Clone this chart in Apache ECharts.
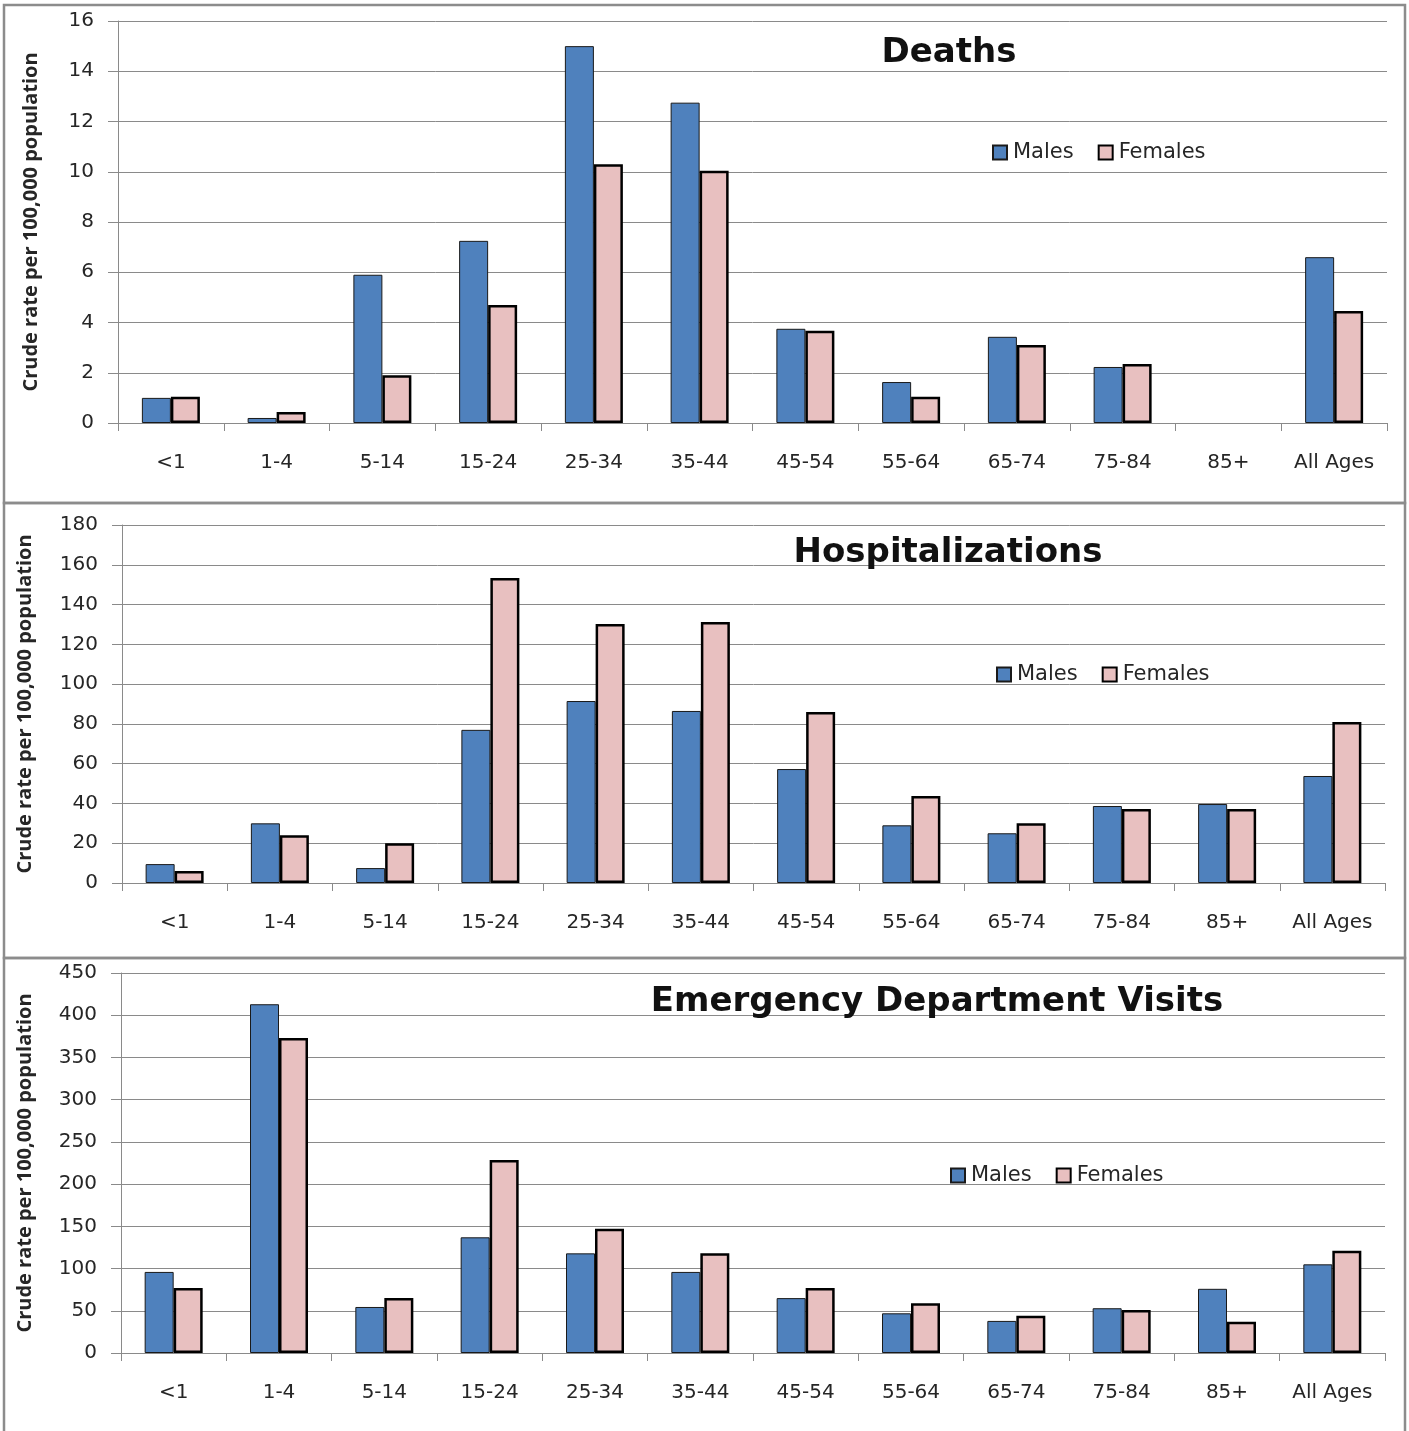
<!DOCTYPE html>
<html><head><meta charset="utf-8">
<script src="https://cdn.jsdelivr.net/npm/echarts@6/dist/echarts.min.js"></script>
<style>html,body{margin:0;padding:0;background:#fff}#c{width:1409px;height:1431px}</style>
</head><body><div id="c"></div>
<script>
const categories = ['<1','1-4','5-14','15-24','25-34','35-44','45-54','55-64','65-74','75-84','85+','All Ages'];
const deathsMales   = [1.0, 0.2, 5.9, 7.25, 15.0, 12.75, 3.75, 1.63, 3.43, 2.23, null, 6.6];
const deathsFemales = [1.04, 0.44, 1.9, 4.7, 10.3, 10.04, 3.67, 1.04, 3.1, 2.35, null, 4.46];
const hospMales     = [9.5, 30, 7.5, 77, 91.5, 86.5, 57.3, 29, 25, 38.7, 39.7, 53.8];
const hospFemales   = [6, 24, 20, 153.3, 130.2, 131.2, 86, 43.7, 30, 37.2, 37.2, 81];
const edMales       = [96, 413, 54.5, 137, 118, 96, 65, 47, 38, 53, 76, 105];
const edFemales     = [77, 373, 65, 228.5, 147, 118, 77, 59, 44, 51, 37, 121];
const titles = ['Deaths','Hospitalizations','Emergency Department Visits'];
const yTitle = 'Crude rate per 100,000 population';
const yMax = [16, 180, 450];
const yStep = [2, 20, 50];

const FONT = 'DejaVu Sans';
const NFONT = 'Open Sans';
const TXT = '#262626';
const AX = '#8a8a8a';
const grids = [
  {left:118, top:21, width:1269, height:402},
  {left:122, top:525, width:1263, height:358},
  {left:121, top:973, width:1264, height:380}
];
const nameGaps = [77, 87, 86];
const titlePos = [{x:944,y:31},{x:943,y:531},{x:932,y:980}];
const legendPos = [{x:987,y:137},{x:991,y:659},{x:945,y:1160}];
const panels = [[5,498],[503,455],[958,480]];
const data = [[deathsMales,deathsFemales],[hospMales,hospFemales],[edMales,edFemales]];

const option = {
  animation:false,
  textStyle:{fontFamily:FONT},
  grid: grids,
  title: titles.map((t,i)=>({text:t,left:titlePos[i].x,top:titlePos[i].y,textAlign:'center',
    textStyle:{fontFamily:FONT,fontSize:34,fontWeight:'bold',color:'#111'}})),
  legend: legendPos.map((p,i)=>({data:['Males','Females'],left:p.x,top:p.y,itemWidth:14,itemHeight:14,itemGap:24,
    icon:'rect',selectedMode:false,textStyle:{fontFamily:FONT,fontSize:21,color:TXT,padding:[0,0,0,1]}})),
  xAxis: grids.map((g,i)=>({type:'category',gridIndex:i,data:categories,
    axisLine:{lineStyle:{color:AX,width:1}},axisTick:{show:true,length:8,lineStyle:{color:AX}},
    axisLabel:{fontFamily:FONT,fontSize:20,color:TXT,margin:30,interval:0}})),
  yAxis: grids.map((g,i)=>({type:'value',gridIndex:i,min:0,max:yMax[i],interval:yStep[i],
    name:yTitle,nameLocation:'middle',nameRotate:90,nameGap:nameGaps[i],
    nameTextStyle:{fontFamily:NFONT,fontSize:20,fontWeight:'bold',color:TXT},
    axisLine:{show:true,lineStyle:{color:AX,width:1}},axisTick:{show:true,length:10,lineStyle:{color:AX}},
    splitLine:{show:true,lineStyle:{color:AX,width:1}},
    axisLabel:{fontFamily:FONT,fontSize:20,color:TXT,margin:24}})),
  series: [],
  graphic: panels.map(p=>({type:'rect',shape:{x:4,y:p[0],width:1401,height:p[1]},
    style:{fill:'none',stroke:'#8c8c8c',lineWidth:2.5},z:100}))
};
data.forEach((d,i)=>{
  option.series.push({name:'Males',type:'bar',xAxisIndex:i,yAxisIndex:i,data:d[0],barWidth:29,barGap:'0%',
    itemStyle:{color:'#4F81BD',borderColor:'#1a1a1a',borderWidth:1}});
  option.series.push({name:'Females',type:'bar',xAxisIndex:i,yAxisIndex:i,data:d[1],barWidth:29,barGap:'0%',
    itemStyle:{color:'#E8C0C0',borderColor:'#000',borderWidth:2.5}});
});
const chart = echarts.init(document.getElementById('c'));
chart.setOption(option);
</script></body></html>
